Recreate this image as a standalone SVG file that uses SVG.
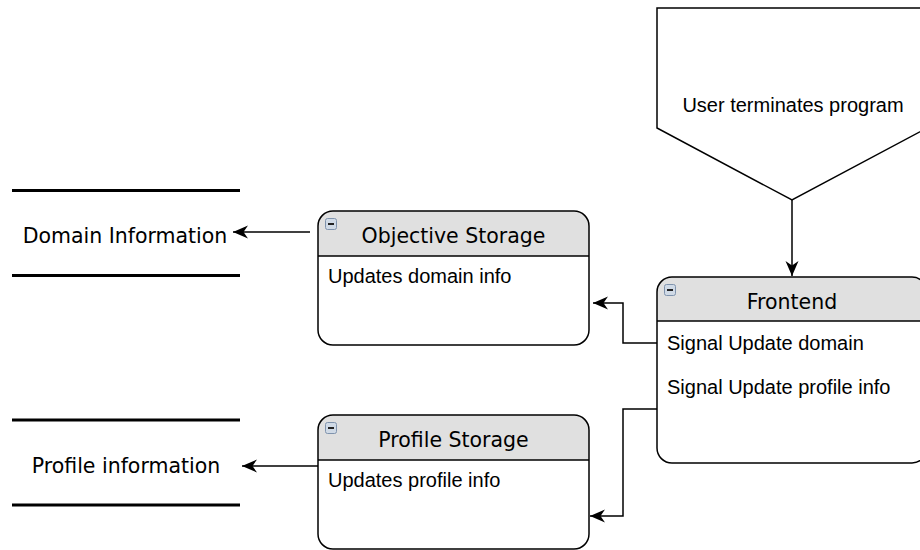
<svg xmlns="http://www.w3.org/2000/svg" width="920" height="550" viewBox="0 0 920 550">
<defs>
<style>
.box{fill:none;stroke:#000;stroke-width:1.5}
.hdr{fill:#e0e0e0;stroke:none}
.sep{stroke:#000;stroke-width:1.5}
.title{font-family:"DejaVu Sans",Verdana,sans-serif;font-size:20.5px;fill:#000;text-anchor:middle}
.body{font-family:"Liberation Sans",Arial,sans-serif;font-size:20px;fill:#000}
.ds{stroke:#000;stroke-width:3}
.conn{fill:none;stroke:#000;stroke-width:1.5}
.icon{fill:#d0dae6;stroke:#7f93ad;stroke-width:1}
.icondash{stroke:#222;stroke-width:2}
</style>
<marker id="arr" markerUnits="userSpaceOnUse" markerWidth="18" markerHeight="16" refX="15" refY="8" orient="auto">
<path d="M0,1.5 L15,8 L0,14.5 L4.5,8 Z" fill="#000"/>
</marker>
</defs>
<rect width="920" height="550" fill="#fff"/>

<g id="domain-information">
<line class="ds" x1="12" y1="190.5" x2="240" y2="190.5"/>
<line class="ds" x1="12" y1="275.5" x2="240" y2="275.5"/>
<text class="title" x="125" y="243">Domain Information</text>
</g>

<g id="profile-information">
<line class="ds" x1="12" y1="420" x2="240" y2="420"/>
<line class="ds" x1="12" y1="505" x2="240" y2="505"/>
<text class="title" x="126" y="473">Profile information</text>
</g>

<g id="user-terminates">
<polygon points="657,8 927,8 927,128 792,200 657,128" fill="#fff" stroke="#000" stroke-width="1.5"/>
<text class="body" x="793" y="112" text-anchor="middle">User terminates program</text>
</g>

<g id="objective-storage">
<path class="hdr" d="M318,256 V226 A15,15 0 0 1 333,211 H574 A15,15 0 0 1 589,226 V256 Z"/>
<rect class="box" x="318" y="211" width="271" height="134" rx="15"/>
<line class="sep" x1="318" y1="256" x2="589" y2="256"/>
<rect class="icon" x="325.5" y="218.5" width="11" height="11" rx="2"/>
<line class="icondash" x1="328" y1="224" x2="334" y2="224"/>
<text class="title" x="453.5" y="243">Objective Storage</text>
<text class="body" x="328" y="283">Updates domain info</text>
</g>

<g id="profile-storage">
<path class="hdr" d="M318,460 V430 A15,15 0 0 1 333,415 H574 A15,15 0 0 1 589,430 V460 Z"/>
<rect class="box" x="318" y="415" width="271" height="134" rx="15"/>
<line class="sep" x1="318" y1="460" x2="589" y2="460"/>
<rect class="icon" x="325.5" y="422.5" width="11" height="11" rx="2"/>
<line class="icondash" x1="328" y1="428" x2="334" y2="428"/>
<text class="title" x="453.5" y="447">Profile Storage</text>
<text class="body" x="328" y="487">Updates profile info</text>
</g>

<g id="frontend">
<path class="hdr" d="M657,321 V292 A15,15 0 0 1 672,277 H912 A15,15 0 0 1 927,292 V321 Z"/>
<rect class="box" x="657" y="277" width="270" height="186" rx="15"/>
<line class="sep" x1="657" y1="321" x2="927" y2="321"/>
<rect class="icon" x="664.5" y="284.5" width="11" height="11" rx="2"/>
<line class="icondash" x1="667" y1="290" x2="673" y2="290"/>
<text class="title" x="792" y="309">Frontend</text>
<text class="body" x="667" y="350">Signal Update domain</text>
<text class="body" x="667" y="394">Signal Update profile info</text>
</g>

<g id="connectors">
<path class="conn" d="M792,200 V276" marker-end="url(#arr)"/>
<path class="conn" d="M657,343 H623 V303 H593" marker-end="url(#arr)"/>
<path class="conn" d="M657,409 H623 V516 H590" marker-end="url(#arr)"/>
<path class="conn" d="M310,232 H233" marker-end="url(#arr)"/>
<path class="conn" d="M318,466 H242" marker-end="url(#arr)"/>
</g>
</svg>
